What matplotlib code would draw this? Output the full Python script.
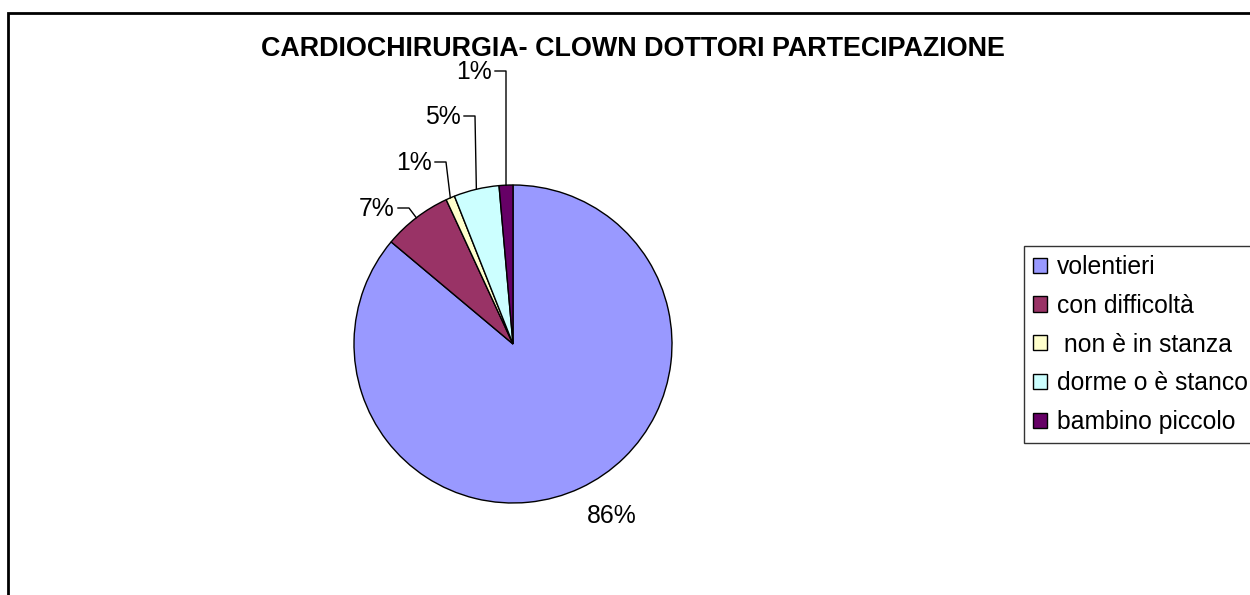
import numpy as np
import matplotlib
matplotlib.use("Agg")
import matplotlib.pyplot as plt
from matplotlib.patches import Rectangle

plt.rcParams['font.family'] = ['Liberation Sans', 'DejaVu Sans']

# data
categories = ['volentieri', 'con difficoltà', ' non è in stanza', 'dorme o è stanco', 'bambino piccolo']
shares = [86.1, 7.0, 0.9, 4.6, 1.4]
colors = ['#9999FF', '#993366', '#FFFFCC', '#CCFFFF', '#660066']
title = 'CARDIOCHIRURGIA- CLOWN DOTTORI PARTECIPAZIONE'

W, H = 1250, 595
fig = plt.figure(figsize=(W / 100, H / 100), dpi=100)
ax = fig.add_axes([0, 0, 1, 1])

# work in pixel units, y up
cx, cy, r = 513, H - 344, 159
wedges, _ = ax.pie(shares, colors=colors, startangle=90, counterclock=False,
                   center=(cx, cy), radius=r, frame=True,
                   wedgeprops=dict(edgecolor='black', linewidth=1))
ax.set_xlim(0, W)
ax.set_ylim(0, H)
ax.set_aspect('auto')
ax.axis('off')

# label layout: (right edge x, centre y) in pixels from top, leader or not
label_pos = [(637, 516, False), (395, 209, True), (432, 163, True),
             (461, 117, True), (492, 72, True)]

total = sum(shares)
for w, v, (lx, ly, leader) in zip(wedges, shares, label_pos):
    txt = '%d%%' % round(v / total * 100)
    ty = H - ly
    ax.text(lx, ty, txt, ha='right', va='center', fontsize=17.8)
    if leader:
        mid = np.deg2rad((w.theta1 + w.theta2) / 2)
        px, py = cx + r * np.cos(mid), cy + r * np.sin(mid)
        ex = lx + 14
        ax.plot([lx + 3, ex, px], [ty + 1, ty + 1, py], color='black', lw=1)

fig.text(633 / W, 1 - 49 / H, title, ha='center', va='center',
         fontsize=19.4, fontweight='bold')

# legend box runs past the right edge, as in the original
leg = fig.legend(wedges, categories, loc='upper left', mode='expand',
                 bbox_to_anchor=(1024 / W, 1 - 246 / H, 0.25, 0), frameon=True,
                 fancybox=False, edgecolor='black', fontsize=17.8,
                 handlelength=0.57, handleheight=0.57, handletextpad=0.4,
                 labelspacing=0.6, borderpad=0.36, borderaxespad=0)
leg.get_frame().set_linewidth(1)

# outer chart frame
fig.patches.append(Rectangle((8 / W, -0.1), 1.2, 1.1 - 13 / H,
                             transform=fig.transFigure, fill=False,
                             edgecolor='black', linewidth=2))

fig.savefig('out.png', dpi=100, facecolor='white')
